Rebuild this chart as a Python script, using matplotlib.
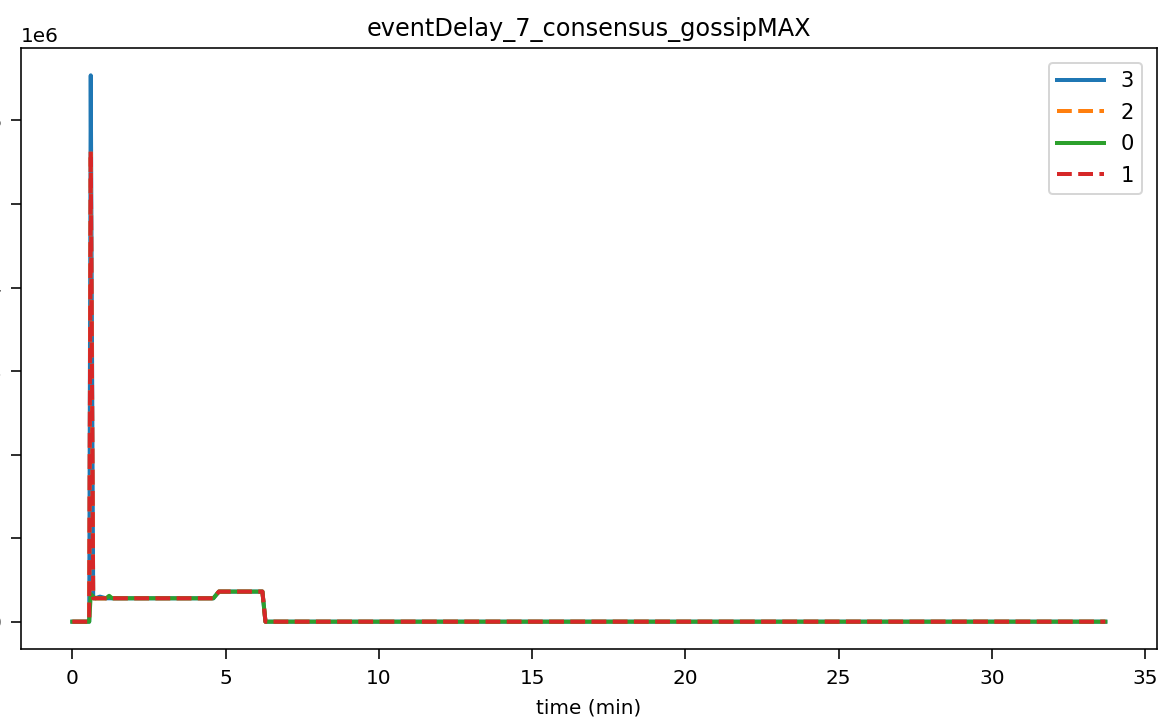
import numpy
from matplotlib import pyplot as plt

# sample times (min) and values for each node
t = [0, 0.5, 0.55, 0.6, 0.68, 0.75, 0.9, 1.0, 1.1, 1.2, 1.3, 4.6, 4.78, 6.2, 6.3, 33.7]
delay_3 = [0, 0, 0, 6.54e6, 0.28e6, 0.28e6, 0.30e6, 0.29e6, 0.28e6, 0.28e6, 0.28e6,
           0.28e6, 0.36e6, 0.36e6, 0, 0]
delay_2 = [0, 0, 0, 5.63e6, 0.28e6, 0.28e6, 0.28e6, 0.28e6, 0.28e6, 0.28e6, 0.28e6,
           0.28e6, 0.36e6, 0.36e6, 0, 0]
delay_0 = [0, 0, 0, 0.33e6, 0.30e6, 0.28e6, 0.28e6, 0.28e6, 0.28e6, 0.31e6, 0.28e6,
           0.28e6, 0.36e6, 0.36e6, 0, 0]
delay_1 = [0, 0, 0, 5.63e6, 0.28e6, 0.28e6, 0.28e6, 0.28e6, 0.28e6, 0.28e6, 0.28e6,
           0.28e6, 0.36e6, 0.36e6, 0, 0]
labels = ['3', '2', '0', '1']

dpi = 144
fig = plt.figure(figsize=(1159/dpi, 721/dpi), dpi=dpi)
ax = fig.add_axes([20.7/1159, (721-649)/721, (1157-20.7)/1159, (649-48)/721])

ax.plot(t, delay_3, lw=2, color='tab:blue', label=labels[0])
ax.plot(t, delay_2, lw=2, ls='--', color='tab:orange', label=labels[1])
ax.plot(t, delay_0, lw=2, color='tab:green', label=labels[2])
ax.plot(t, delay_1, lw=2, ls='--', color='tab:red', label=labels[3])

ax.set_xticks([0, 5, 10, 15, 20, 25, 30, 35])
ax.tick_params(length=4.8, pad=5)
ax.set_title('eventDelay_7_consensus_gossipMAX')
ax.set_xlabel('time (min)', labelpad=5.5)
ax.legend(loc='upper right', handlelength=2.2, labelspacing=0.55, fontsize=10.5,
          borderaxespad=0.7)

fig.savefig('out.png', dpi=dpi)
